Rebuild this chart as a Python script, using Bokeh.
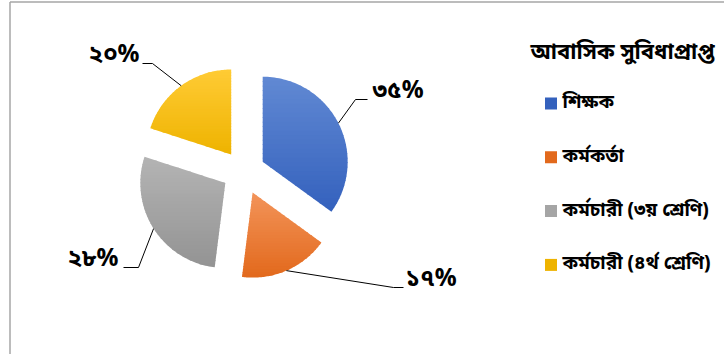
import numpy as np
from bokeh.plotting import figure
from bokeh.models import Range1d
from bokeh.core.properties import value
from bokeh.embed import file_html
from bokeh.resources import INLINE

# ---------------- data ----------------
categories = ["শিক্ষক", "কর্মকর্তা", "কর্মচারী (৩য় শ্রেণি)", "কর্মচারী (৪র্থ শ্রেণি)"]
shares = [35, 17, 28, 20]
pct_labels = ["৩৫%", "১৭%", "২৮%", "২০%"]
legend_title = "আবাসিক সুবিধাপ্রাপ্ত"

# ---------------- styles ----------------
top_colors = ["#6189d3", "#f3945a", "#b4b4b4", "#ffcb35"]
bottom_colors = ["#3461bd", "#e2691c", "#939393", "#eeb300"]
FONT = "'Noto Sans Bengali', 'Noto Serif Bengali', 'Lohit Bengali', 'FreeSerif', 'Noto Sans'"

W, H = 724, 354
p = figure(width=W, height=H, output_backend="svg", toolbar_location=None,
           x_range=Range1d(0, W), y_range=Range1d(H, 0),
           min_border=0)
p.axis.visible = False
p.grid.visible = False
p.outline_line_color = None
p.background_fill_color = "white"

# chart frame (left and top edge)
p.line(x=[9.5, 9.5], y=[H, 1.5], line_color="#a6a6a6", line_width=1.5)
p.line(x=[9.5, W], y=[1.5, 1.5], line_color="#a6a6a6", line_width=1.5)

# ---------------- pie geometry ----------------
cx, cy = 243.0, 171.0
R = 85.0
explode = [21.5, 23.0, 21.5, 21.0]

def clip_half(pts, f):
    out = []
    n = len(pts)
    for i in range(n):
        P, Q = pts[i], pts[(i + 1) % n]
        fp, fq = f(P), f(Q)
        if fp >= 0:
            out.append(P)
        if (fp >= 0) != (fq >= 0):
            t = fp / (fp - fq)
            out.append((P[0] + t * (Q[0] - P[0]), P[1] + t * (Q[1] - P[1])))
    return out

def hex2rgb(h):
    h = h.lstrip("#")
    return np.array([int(h[i:i + 2], 16) for i in (0, 2, 4)], dtype=float)

def rgb2hex(c):
    return "#%02x%02x%02x" % tuple(int(round(v)) for v in c)

total = float(sum(shares))
start = 90.0
xs_all, ys_all, cols_all = [], [], []
mid_pts = []
for i, s in enumerate(shares):
    sweep = 360.0 * s / total
    a0, a1 = start, start - sweep
    mid = np.radians((a0 + a1) / 2)
    ax = cx + explode[i] * np.cos(mid)
    ay = cy - explode[i] * np.sin(mid)
    angs = np.radians(np.linspace(a0, a1, 80))
    poly = [(ax, ay)] + [(ax + R * np.cos(a), ay - R * np.sin(a)) for a in angs]
    mid_pts.append((ax + R * np.cos(mid), ay - R * np.sin(mid)))
    ymin = min(q[1] for q in poly)
    ymax = max(q[1] for q in poly)
    nb = 30
    hgt = (ymax - ymin) / nb
    c0, c1 = hex2rgb(top_colors[i]), hex2rgb(bottom_colors[i])
    for b in range(nb):
        y0 = ymin + b * hgt
        y1 = y0 + hgt + (0.8 if b < nb - 1 else 0.0)
        pts = clip_half(poly, lambda q, y0=y0: q[1] - y0)
        if len(pts) < 3:
            continue
        pts = clip_half(pts, lambda q, y1=y1: y1 - q[1])
        if len(pts) < 3:
            continue
        t = (b + 0.5) / nb
        xs_all.append([q[0] for q in pts])
        ys_all.append([q[1] for q in pts])
        cols_all.append(rgb2hex(c0 + (c1 - c0) * t))
    start = a1

p.patches(xs=xs_all, ys=ys_all, fill_color=cols_all, line_color=None)

# ---------------- leader lines & labels ----------------
label_anchor = [(367, 99), (403, 287), (123, 267), (142, 63)]
elbow_dx = [-12, -10, 15, 10]
label_side = ["left", "left", "right", "right"]
label_gap = [5, 2, 5, 3]
for i, (mx, my) in enumerate(mid_pts):
    ex, ey = label_anchor[i]
    p.line(x=[mx, ex + elbow_dx[i], ex], y=[my, ey, ey], line_color="black", line_width=1)
    tx = ex + label_gap[i] if label_side[i] == "left" else ex - label_gap[i]
    p.text(x=[tx], y=[ey - 8], text=[pct_labels[i]], text_align=label_side[i],
           text_baseline="middle", text_font=value(FONT), text_font_size="24px",
           text_font_style="bold", text_color="black")

# ---------------- legend ----------------
p.text(x=[530], y=[53], text=[legend_title], text_align="left", text_baseline="middle",
       text_font=value(FONT), text_font_size="22px", text_font_style="bold",
       text_color="black")
ly = [103 + k * 53.8 for k in range(len(categories))]
p.rect(x=[550.5] * len(categories), y=ly, width=12, height=12,
       fill_color=[bottom_colors[0], bottom_colors[1], "#a5a5a5", bottom_colors[3]],
       line_color=None)
p.text(x=[562] * len(categories), y=ly, text=categories, text_align="left",
       text_baseline="middle", text_font=value(FONT), text_font_size="19px",
       text_font_style="bold", text_color="black")

open("out.html", "w").write(file_html(p, INLINE))
